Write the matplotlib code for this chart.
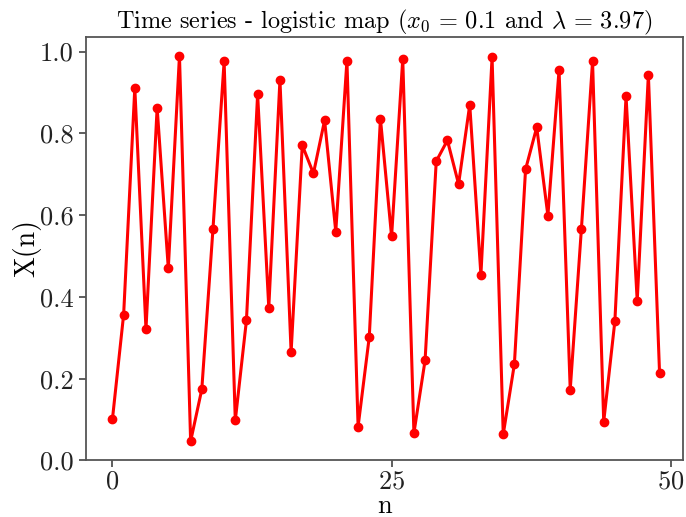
import numpy as np
import matplotlib
matplotlib.use("Agg")
import matplotlib.pyplot as plt


# ======================
# Data
# ======================

n_values = list(range(50))

x_values = [
    0.102, 0.357, 0.911, 0.321, 0.863, 0.470, 0.990, 0.047, 0.174, 0.566,
    0.976, 0.098, 0.343, 0.896, 0.374, 0.931, 0.265, 0.771, 0.702, 0.832,
    0.560, 0.978, 0.083, 0.302, 0.836, 0.548, 0.982, 0.067, 0.245, 0.732,
    0.783, 0.676, 0.870, 0.454, 0.986, 0.064, 0.236, 0.712, 0.815, 0.599,
    0.955, 0.173, 0.566, 0.976, 0.095, 0.341, 0.891, 0.390, 0.944, 0.215,
]

x_ticks = [0, 25, 50]
y_ticks = [0.0, 0.2, 0.4, 0.6, 0.8, 1.0]


# ======================
# Style
# ======================

plt.rcParams["font.family"] = "serif"
plt.rcParams["font.serif"] = ["cmr10"]
plt.rcParams["mathtext.fontset"] = "cm"
plt.rcParams["axes.unicode_minus"] = False
plt.rcParams["axes.formatter.use_mathtext"] = True


# ======================
# Plot
# ======================

fig = plt.figure(figsize=(6.86, 5.17), dpi=100)
ax = fig.add_axes([0.1249, 0.1093, 0.8707, 0.8201])

ax.plot(n_values, x_values, color="red", linewidth=2.2,
        marker="o", markersize=6)

ax.set_xlim(-2.4, 51.1)
ax.set_ylim(0.0, 1.037)
ax.set_xticks(x_ticks)
ax.set_yticks(y_ticks)
ax.set_yticklabels([f"{v:.1f}" for v in y_ticks])

for spine in ax.spines.values():
    spine.set_color("#555555")
    spine.set_linewidth(1.3)

ax.tick_params(labelsize=19, colors="#333333", length=5, width=1.1,
               labelcolor="#222222")
ax.tick_params(axis="x", pad=2)

ax.set_xlabel("n", fontsize=19, labelpad=0)
ax.set_ylabel("X(n)", fontsize=20, labelpad=-1)
ax.set_title(r"Time series - logistic map ($x_0\,=\,0.1$ and $\lambda\,=\,3.97$)",
             fontsize=17.5, pad=6)

fig.savefig("out.png", dpi=100)
